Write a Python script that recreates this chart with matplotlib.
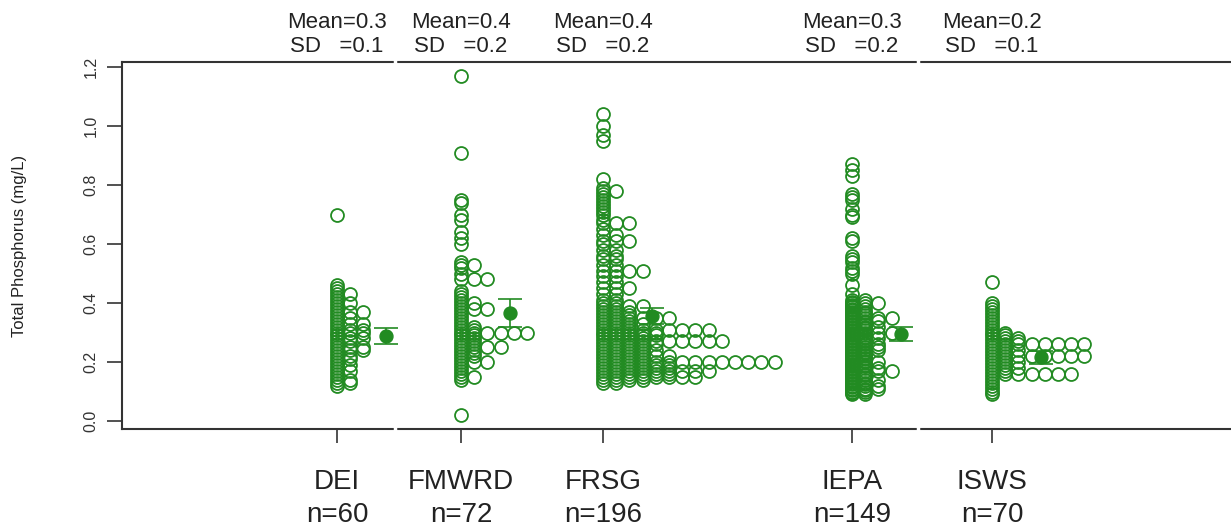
import matplotlib.pyplot as plt

plt.rcParams['font.family'] = ['Liberation Sans', 'DejaVu Sans']

GREEN = 'forestgreen'
INK = '#222222'

groups = ["DEI", "FMWRD", "FRSG", "IEPA", "ISWS"]
n_obs = [60, 72, 196, 149, 70]
mean_txt = ["0.3", "0.4", "0.4", "0.3", "0.2"]
sd_txt = ["0.1", "0.2", "0.2", "0.2", "0.1"]
group_means = [0.288, 0.366, 0.356, 0.295, 0.217]
ci_half = [0.026, 0.048, 0.026, 0.025, 0.022]

# total phosphorus values (mg/L) and how many samples share each value
dei_tp = [0.12, 0.13, 0.14, 0.15, 0.16, 0.17, 0.18, 0.19, 0.20, 0.21, 0.22, 0.23,
          0.24, 0.25, 0.26, 0.27, 0.28, 0.29, 0.30, 0.31, 0.32, 0.33, 0.34, 0.35,
          0.36, 0.37, 0.38, 0.39, 0.40, 0.41, 0.42, 0.43, 0.44, 0.45, 0.46, 0.70]
dei_n = [1, 2, 2, 1, 1, 2, 1, 2, 1, 2, 2, 1,
         3, 3, 1, 2, 3, 1, 3, 3, 1, 3, 1, 2,
         1, 3, 1, 1, 2, 1, 1, 2, 1, 1, 1, 1]

fmwrd_tp = [0.02, 0.14, 0.15, 0.16, 0.17, 0.18, 0.19, 0.20, 0.21, 0.22, 0.23, 0.24,
            0.25, 0.26, 0.27, 0.28, 0.29, 0.30, 0.31, 0.32, 0.33, 0.34, 0.35, 0.36,
            0.37, 0.38, 0.39, 0.40, 0.41, 0.42, 0.43, 0.44, 0.48, 0.50, 0.52, 0.53,
            0.54, 0.60, 0.62, 0.64, 0.68, 0.70, 0.74, 0.75, 0.91, 1.17]
fmwrd_n = [1, 1, 2, 1, 1, 1, 1, 3, 1, 2, 2, 2,
           4, 2, 2, 2, 2, 6, 2, 2, 1, 1, 1, 1,
           1, 3, 1, 2, 1, 1, 1, 1, 3, 1, 1, 2,
           1, 1, 1, 1, 1, 1, 1, 1, 1, 1]

frsg_tp = [0.13, 0.14, 0.15, 0.16, 0.17, 0.18, 0.19, 0.20, 0.21, 0.22, 0.23, 0.24,
           0.25, 0.26, 0.27, 0.28, 0.29, 0.30, 0.31, 0.32, 0.33, 0.34, 0.35, 0.36,
           0.37, 0.38, 0.39, 0.40, 0.41, 0.43, 0.45, 0.47, 0.49, 0.51, 0.53, 0.55,
           0.56, 0.58, 0.60, 0.61, 0.63, 0.65, 0.67, 0.68, 0.70, 0.71, 0.72, 0.73,
           0.74, 0.75, 0.76, 0.77, 0.78, 0.79, 0.82, 0.95, 0.97, 1.00, 1.04]
frsg_n = [2, 4, 8, 6, 9, 6, 6, 14, 4, 6, 4, 5,
          4, 5, 10, 4, 5, 5, 9, 3, 4, 3, 6, 3,
          3, 2, 4, 2, 2, 2, 3, 2, 2, 4, 2, 2,
          2, 2, 1, 3, 2, 1, 3, 1, 1, 1, 1, 1,
          1, 1, 1, 1, 2, 1, 1, 1, 1, 1, 1]

iepa_tp = [0.090, 0.095, 0.100, 0.105, 0.110, 0.115, 0.120, 0.125, 0.130, 0.135,
           0.140, 0.145, 0.150, 0.155, 0.160, 0.165, 0.170, 0.175, 0.180, 0.185,
           0.190, 0.195, 0.200, 0.205, 0.210, 0.215, 0.220, 0.225, 0.230, 0.235,
           0.240, 0.245, 0.250, 0.255, 0.260, 0.265, 0.270, 0.275, 0.280, 0.285,
           0.290, 0.295, 0.300, 0.305, 0.310, 0.315, 0.320, 0.325, 0.330, 0.335,
           0.340, 0.345, 0.350, 0.355, 0.360, 0.365, 0.370, 0.375, 0.380, 0.385,
           0.390, 0.395, 0.400, 0.405, 0.410,
           0.43, 0.46, 0.50, 0.51, 0.52, 0.54, 0.55, 0.56, 0.61, 0.62,
           0.69, 0.70, 0.72, 0.75, 0.76, 0.77, 0.83, 0.85, 0.87]
iepa_n = [2, 1, 2, 2, 3, 1, 3, 2, 2, 1,
          3, 1, 2, 2, 2, 1, 4, 1, 3, 2,
          2, 1, 3, 2, 2, 2, 2, 2, 2, 2,
          3, 1, 3, 1, 3, 2, 2, 2, 3, 2,
          2, 1, 4, 1, 2, 2, 3, 1, 2, 2,
          3, 1, 4, 1, 2, 2, 2, 1, 2, 1,
          2, 1, 3, 1, 2,
          1, 1, 1, 1, 1, 1, 1, 1, 1, 1,
          1, 1, 1, 1, 1, 1, 1, 1, 1]

isws_tp = [0.09, 0.10, 0.11, 0.12, 0.13, 0.14, 0.15, 0.16, 0.17, 0.18, 0.19, 0.20,
           0.21, 0.22, 0.23, 0.24, 0.25, 0.26, 0.27, 0.28, 0.29, 0.30, 0.31, 0.32,
           0.33, 0.34, 0.35, 0.36, 0.37, 0.38, 0.39, 0.40, 0.47]
isws_n = [1, 1, 1, 1, 1, 1, 1, 7, 2, 3, 2, 3,
          2, 8, 2, 3, 2, 8, 3, 3, 2, 2, 1, 1,
          1, 1, 1, 1, 1, 1, 1, 1, 1]

tp_vals = [dei_tp, fmwrd_tp, frsg_tp, iepa_tp, isws_tp]
tp_cnts = [dei_n, fmwrd_n, frsg_n, iepa_n, isws_n]

# layout (x axis runs in pixel-like units)
x_pos = [337, 461, 603, 852, 992]
STEP = 13.2      # horizontal offset between stacked ties
MEAN_DX = 49     # mean marker offset to the right of each strip

fig = plt.figure(figsize=(12.31, 5.32), dpi=100)
ax = fig.add_axes([122 / 1231, 1 - 429 / 532, 1.0, (429 - 62) / 532])
ax.set_xlim(122, 122 + 1231)
ax.set_ylim(-0.027, 1.217)

for x0, vals, cnts in zip(x_pos, tp_vals, tp_cnts):
    xs, ys = [], []
    for v, c in zip(vals, cnts):
        for k in range(c):
            xs.append(x0 + k * STEP)
            ys.append(v)
    ax.plot(xs, ys, 'o', ms=9.3, mfc='none', mec=GREEN, mew=1.3, zorder=3)

for x0, m, ci in zip(x_pos, group_means, ci_half):
    ax.errorbar(x0 + MEAN_DX, m, yerr=ci, fmt='o', ms=9.3, color=GREEN,
                ecolor=GREEN, elinewidth=1.2, capsize=8.5, capthick=1.2, zorder=4)

for s in ['top', 'bottom', 'left', 'right']:
    ax.spines[s].set_linewidth(1.5)
    ax.spines[s].set_color('#333333')

ax.set_yticks([0.0, 0.2, 0.4, 0.6, 0.8, 1.0, 1.2])
ax.set_yticklabels(["0.0", "0.2", "0.4", "0.6", "0.8", "1.0", "1.2"],
                   rotation=90, va='center', fontsize=11.5, color=INK)
ax.tick_params(axis='y', length=11, width=1.2, pad=6, colors='#333333')
ax.set_xticks(x_pos)
ax.set_xticklabels([])
ax.tick_params(axis='x', length=10, width=1.2, colors='#333333')

# small white breaks in the frame left by the label boxes
for xb in [395, 918]:
    ax.axvline(xb, ymin=-0.01, ymax=0.01, color='white', lw=2.5, clip_on=False, zorder=6)
    ax.axvline(xb, ymin=0.99, ymax=1.01, color='white', lw=2.5, clip_on=False, zorder=6)

fig.text(20 / 1231, 1 - 246 / 532, "Total Phosphorus (mg/L)", rotation=90,
         ha='center', va='center', fontsize=12, color=INK)

tr = ax.get_xaxis_transform()
for x0, g, n, mt, sd in zip(x_pos, groups, n_obs, mean_txt, sd_txt):
    ax.text(x0, (429 - 482) / 367, g, transform=tr, ha='center', va='center',
            fontsize=20, color=INK)
    ax.text(x0, (429 - 515) / 367, f"n={n}", transform=tr, ha='center', va='center',
            fontsize=20, color=INK)
    ax.text(x0, (429 - 22) / 367, f"Mean={mt}", transform=tr, ha='center', va='center',
            fontsize=16, color=INK)
    ax.text(x0, (429 - 47) / 367, f"SD   ={sd}", transform=tr, ha='center', va='center',
            fontsize=16, color=INK)

fig.savefig("out.png", dpi=100)
